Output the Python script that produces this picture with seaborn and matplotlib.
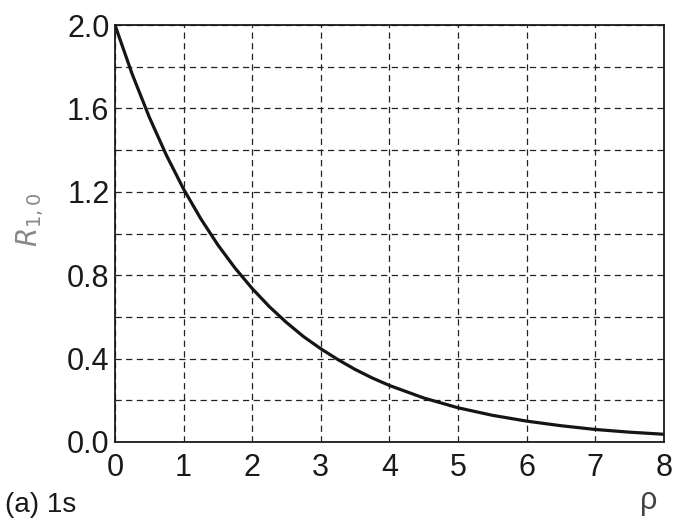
import numpy as np
import pandas as pd
import matplotlib
matplotlib.use("Agg")
import matplotlib.pyplot as plt
import seaborn as sns

# values (1s radial function)
rho = [0, 0.25, 0.5, 0.75, 1, 1.25, 1.5, 1.75, 2, 2.25, 2.5, 2.75, 3,
       3.25, 3.5, 3.75, 4, 4.5, 5, 5.5, 6, 6.5, 7, 7.5, 8]
r10 = [2.000, 1.765, 1.558, 1.375, 1.213, 1.071, 0.945, 0.834, 0.736,
       0.649, 0.573, 0.505, 0.447, 0.395, 0.348, 0.307, 0.271, 0.211,
       0.164, 0.128, 0.100, 0.078, 0.060, 0.047, 0.037]

x_ticks = [0, 1, 2, 3, 4, 5, 6, 7, 8]
y_ticks = [0.0, 0.4, 0.8, 1.2, 1.6, 2.0]
y_grid = [0.2, 0.6, 1.0, 1.4, 1.8]

sns.set_style("white")
plt.rcParams["font.family"] = ["Liberation Sans", "DejaVu Sans"]

df = pd.DataFrame({"rho": rho, "R": r10})

fig = plt.figure(figsize=(6.74, 5.29), dpi=100)
ax = fig.add_axes([0.1706, 0.1645, 0.8144, 0.7882])

sns.lineplot(data=df, x="rho", y="R", ax=ax, color="#151515", linewidth=2.3)

ax.set_xlim(0, 8)
ax.set_ylim(0, 2.0)
ax.set_xticks(x_ticks)
ax.set_yticks(y_ticks)
ax.set_yticks(y_grid, minor=True)
ax.set_yticklabels([f"{v:.1f}" for v in y_ticks])
ax.set_xlabel("")
ax.set_ylabel("")

ax.grid(True, which="both", axis="y", color="#222222", linestyle=(0, (5, 3.5)), linewidth=0.9)
ax.grid(True, which="major", axis="x", color="#222222", linestyle=(0, (5, 3.5)), linewidth=0.9)

for s in ax.spines.values():
    s.set_color("#1a1a1a")
    s.set_linewidth(1.3)

ax.tick_params(axis="both", which="both", direction="in", length=4, width=1,
               colors="#1a1a1a", labelsize=22)
ax.tick_params(axis="x", pad=8)
ax.tick_params(axis="y", pad=4)

fig.text(0.045, 0.585, r"$R_{1,0}$", rotation=90, fontsize=20, color="#888888",
         ha="center", va="center")
fig.text(0.963, 0.025, "ρ", fontsize=22, color="#444444", ha="center", va="bottom")
fig.text(0.008, 0.02, "(a) 1s", fontsize=20, color="#1a1a1a", ha="left", va="bottom")

fig.savefig("out.png", dpi=100)
